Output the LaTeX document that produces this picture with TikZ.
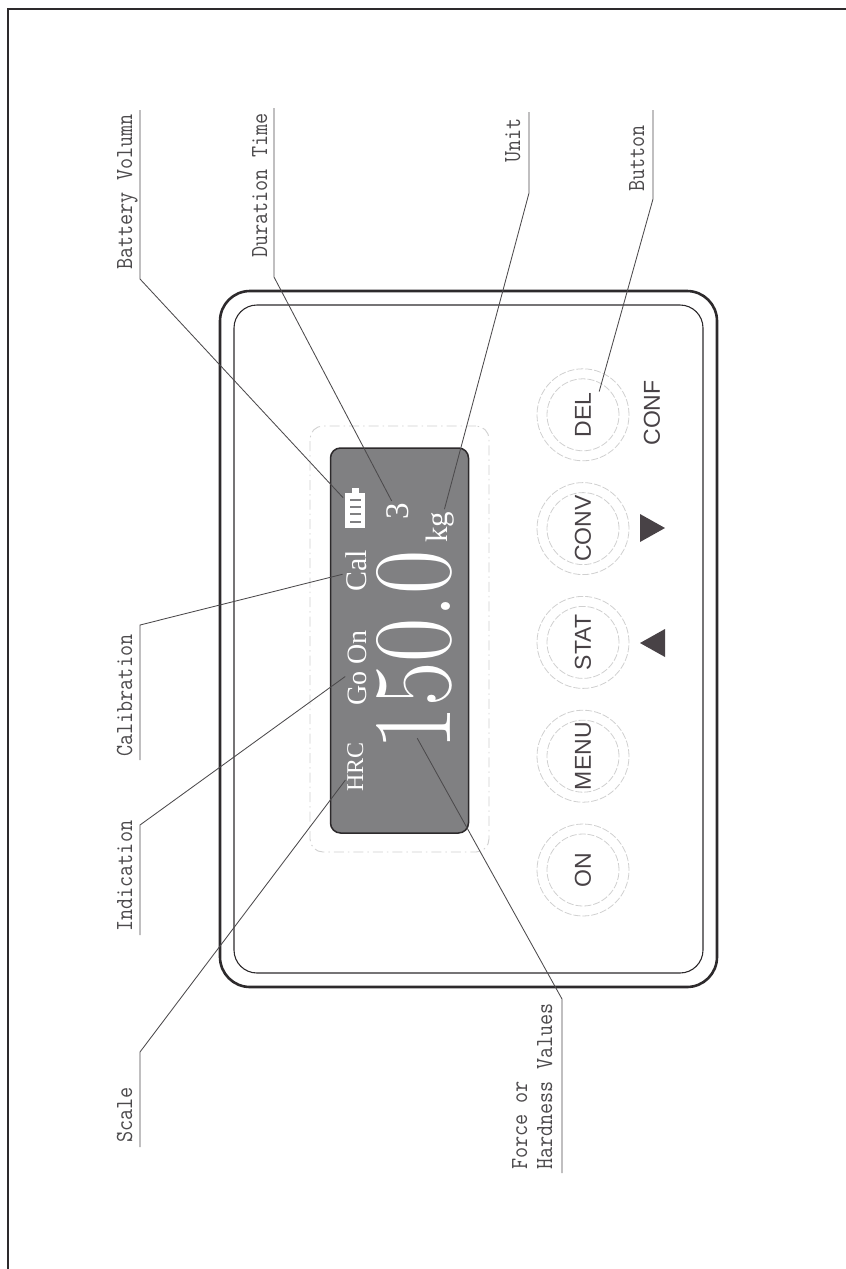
\documentclass[tikz,border=0pt]{standalone}
\usepackage{fontspec}
\setsansfont{Liberation Sans}
\setmonofont[FakeStretch=0.88]{Latin Modern Mono}
\newfontfamily\valuefont{Latin Modern Roman}
\newfontfamily\lcdfont{Liberation Serif}
\usetikzlibrary{positioning}
\definecolor{ink}{RGB}{45,42,44}
\definecolor{btnink}{RGB}{72,66,70}
\definecolor{screen}{RGB}{128,128,130}
\definecolor{ghost}{RGB}{208,208,208}
\newcommand{\fsize}[1]{\fontsize{#1}{#1}\selectfont}

\begin{document}
\begin{tikzpicture}[
    x=1pt,y=-1pt,
    caption/.style={rotate=90,anchor=base west,inner sep=0pt,font=\ttfamily\fsize{24.5},text=ink!85},
    readout/.style={rotate=90,anchor=base west,inner sep=0pt,text=white},
    leader/.style={draw=ink!85,line width=0.85pt,shorten >=2.5pt},
    btn/.style={circle,draw=ghost,dash pattern=on 7pt off 2pt,line width=0.8pt,
      minimum size=72pt,inner sep=0pt,text=btnink,font=\sffamily\fsize{23}},
    btnring/.style={circle,draw=ghost,dash pattern=on 7pt off 2pt,line width=0.8pt,
      minimum size=92pt,inner sep=0pt},
    btnmark/.style={fill=btnink}
  ]
    \useasboundingbox (0,0) rectangle (846,1269);
    \draw[line width=1.3pt,ink] (846,9) -- (8,9) -- (8,1269);
    \node[draw=ink,line width=2.6pt,rounded corners=30pt,minimum width=497pt,minimum height=696pt] (body) at (468.5,639) {};
    \node[draw=ink,line width=1.1pt,rounded corners=23pt,minimum width=469pt,minimum height=668pt] (inner) at (468.5,639) {};
    \node[draw=ghost,line width=0.9pt,rounded corners=13pt,dash pattern=on 10pt off 4pt on 1.5pt off 4pt,minimum width=179pt,minimum height=426pt] (frame) at (399.5,639) {};
    \node[draw=ink,fill=screen,line width=1.5pt,rounded corners=10pt,minimum width=138pt,minimum height=385pt] (lcd) at (399.5,640.5) {};

    \node[btn] (on) at (583,870) {\rotatebox{90}{ON}};
    \node[btn,above=41pt of on] (menu) {\rotatebox{90}{MENU}};
    \node[btn,above=41pt of menu] (stat) {\rotatebox{90}{STAT}};
    \node[btn,above=41pt of stat] (conv) {\rotatebox{90}{CONV}};
    \node[btn,above=41pt of conv] (del) {\rotatebox{90}{DEL}};
    \node[btnring] (ring1) at (on) {};
    \node[btnring] (ring2) at (menu) {};
    \node[btnring] (ring3) at (stat) {};
    \node[btnring] (ring4) at (conv) {};
    \node[btnring] (ring5) at (del) {};
    \node[font=\sffamily\fsize{23},text=btnink,rotate=90,inner sep=0pt] (conf) at (652,413) {CONF};
    \fill[btnmark] (640,514) -- (640,542) -- (665,528) -- cycle;
    \fill[btnmark] (665,629) -- (665,657) -- (640,643) -- cycle;

    \node[readout,font=\valuefont\fsize{112}] (value) at (450,751) {\scalebox{0.86}[1]{150.0}};
    \node[readout,font=\lcdfont\fsize{31}] (kg) at (447,543) {kg};
    \node[readout,font=\lcdfont\fsize{33}] (dur) at (408,520) {3};
    \node[readout,font=\lcdfont\fsize{30}] (cal) at (366,592) {Cal};
    \node[readout,font=\lcdfont\fsize{28}] (goon) at (366,706) {Go On};
    \node[readout,font=\lcdfont\fsize{24}] (hrc) at (363,792) {HRC};
    \node[fill=white,minimum width=20pt,minimum height=35pt,inner sep=0pt] (bat) at (355,510.5) {};
    \fill[white] (352,494) rectangle (359,488);
    \foreach \ypos in {500,507,514,522}
      \draw[screen,line width=1.3pt] (350,\ypos) -- (361,\ypos);

    \node[caption] (tbat) at (132,270) {Battery Volumn};
    \node[caption] (tdur) at (267,258) {Duration Time};
    \node[caption] (tunit) at (520,163) {Unit};
    \node[caption] (tbtn) at (644,192) {Button};
    \node[caption] (tcal) at (132,757) {Calibration};
    \node[caption] (tind) at (132,932) {Indication};
    \node[caption] (tscale) at (132,1143) {Scale};
    \node[caption] (tforce) at (527,1170) {Force or};
    \node[caption] (thard) at (552,1170) {Hardness Values};

    \coordinate (a1) at (140,110);
    \coordinate (a2) at (140,279);
    \coordinate (b1) at (274,108);
    \coordinate (b2) at (274,277);
    \coordinate (c1) at (529,112);
    \coordinate (c2) at (529,193);
    \coordinate (d1) at (653,110);
    \coordinate (d2) at (653,199);
    \coordinate (delend) at (598.5,394);
    \coordinate (e1) at (140,760);
    \coordinate (e2) at (140,625);
    \coordinate (f1) at (140,935);
    \coordinate (f2) at (140,825);
    \coordinate (g1) at (140,1147);
    \coordinate (g2) at (140,1052);
    \coordinate (h1) at (562,1173);
    \coordinate (h2) at (562,999);
    \coordinate (valueend) at (416,736);
    \draw[leader] (a1) -- (a2) -- (bat);
    \draw[leader] (b1) -- (b2) -- (dur);
    \draw[leader] (c1) -- (c2) -- (kg);
    \draw[leader] (d1) -- (d2) -- (delend);
    \draw[leader] (e1) -- (e2) -- (cal);
    \draw[leader] (f1) -- (f2) -- (goon);
    \draw[leader] (g1) -- (g2) -- (hrc);
    \draw[leader] (h1) -- (h2) -- (valueend);
  \end{tikzpicture}
\end{document}
